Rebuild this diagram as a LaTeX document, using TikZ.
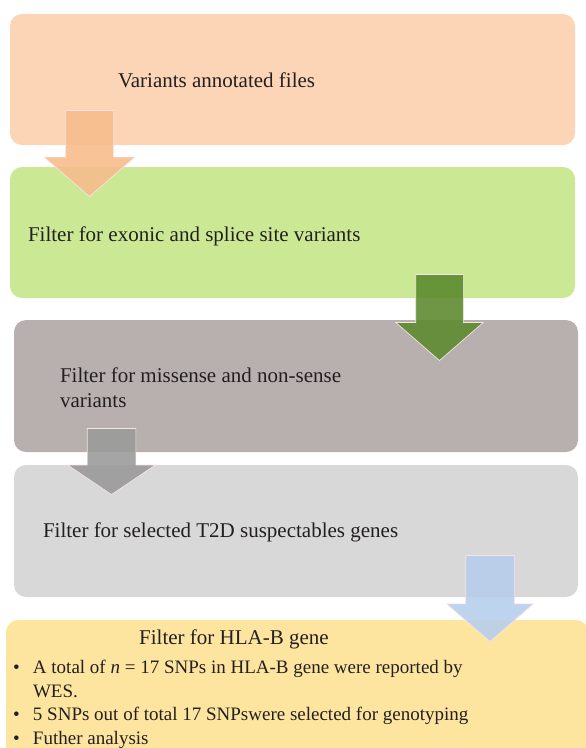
\documentclass[tikz,border=0pt]{standalone}
\usepackage{fontspec}
\setmainfont{Liberation Serif}
\usetikzlibrary{shapes.arrows,positioning,calc}
\definecolor{annotbg}{RGB}{252,213,183}
\definecolor{exonicbg}{RGB}{203,232,148}
\definecolor{missensebg}{RGB}{183,176,174}
\definecolor{susceptbg}{RGB}{216,216,216}
\definecolor{hlabbg}{RGB}{254,229,159}
\definecolor{annotarrowbg}{RGB}{247,188,140}
\definecolor{exonicarrowbg}{RGB}{94,139,48}
\definecolor{missensearrowbg}{RGB}{155,155,155}
\definecolor{susceptarrowbg}{RGB}{183,206,236}
\definecolor{arrowedge}{RGB}{246,228,228}
\definecolor{textgray}{RGB}{35,31,32}
\tikzset{
    stepbox/.style={rounded corners=12pt, inner sep=0pt, minimum width=565pt, minimum height=131pt},
    boxtext/.style={font=\fontsize{21}{25}\selectfont, text=textgray, inner sep=0pt, align=left, anchor=west},
    bullettext/.style={font=\fontsize{19}{23.6}\selectfont, text=textgray, inner sep=0pt, align=left, anchor=west},
    blockarrow/.style={single arrow, rotate=-90, anchor=tip, draw=arrowedge, line width=0.7pt, fill opacity=0.9,
        inner xsep=0pt, inner ysep=23.5pt, single arrow head extend=21.5pt, minimum height=86pt, single arrow tip angle=98}
}

\begin{document}
\begin{tikzpicture}[x=1pt, y=-1pt]
    \useasboundingbox (0,0) rectangle (586,748);
    \clip (0,0) rectangle (586,748);

    % filter steps
    \node[stepbox, fill=annotbg] (annot) at (292.5,79.5) {};
    \node[stepbox, fill=exonicbg] (exonic) at (292.5,232.5) {};
    \node[stepbox, fill=missensebg, minimum width=564pt, minimum height=132pt] (missense) at (296,386) {};
    \node[stepbox, fill=susceptbg, minimum width=564pt, minimum height=132pt] (suscept) at (296,531) {};
    \node[stepbox, fill=hlabbg, minimum width=582pt, minimum height=150pt] (hlab) at (297,695) {};

    \node[boxtext] (annottext) at ([xshift=108pt, yshift=-0.5pt]annot.west) {Variants annotated files};
    \node[boxtext] (exonictext) at ([xshift=18pt, yshift=-3.5pt]exonic.west) {Filter for exonic and splice site variants};
    \node[boxtext] (missensetext) at ([xshift=46pt, yshift=-1.5pt]missense.west) {Filter for missense and non-sense\\variants};
    \node[boxtext] (suscepttext) at ([xshift=29pt, yshift=-1pt]suscept.west) {Filter for selected T2D suspectables genes};
    \node[boxtext, anchor=center] (hlabtitle) at ([xshift=-63pt, yshift=-20pt]hlab.north) {Filter for HLA-B gene};
    \node[bullettext] (hlablist) at ([xshift=7pt, yshift=-9.5pt]hlab.west)
        {\makebox[20pt][l]{\textbullet}A total of \textit{n} = 17 SNPs in HLA-B gene were reported by\\
         \hspace*{20pt}WES.\\
         \makebox[20pt][l]{\textbullet}5 SNPs out of total 17 SNPswere selected for genotyping\\
         \makebox[20pt][l]{\textbullet}Futher analysis};

    % block arrows
    \node[blockarrow, fill=annotarrowbg] (annotarrow) at (89.5,197) {};
    \node[blockarrow, fill=exonicarrowbg, single arrow head extend=20pt] (exonicarrow) at (439.5,361) {};
    \node[blockarrow, fill=missensearrowbg, minimum height=66pt, inner ysep=24pt, single arrow head extend=19.5pt, single arrow tip angle=112] (missensearrow) at (111.5,495) {};
    \node[blockarrow, fill=susceptarrowbg, inner ysep=24pt, single arrow head extend=19pt] (susceptarrow) at (490,642) {};
\end{tikzpicture}
\end{document}
